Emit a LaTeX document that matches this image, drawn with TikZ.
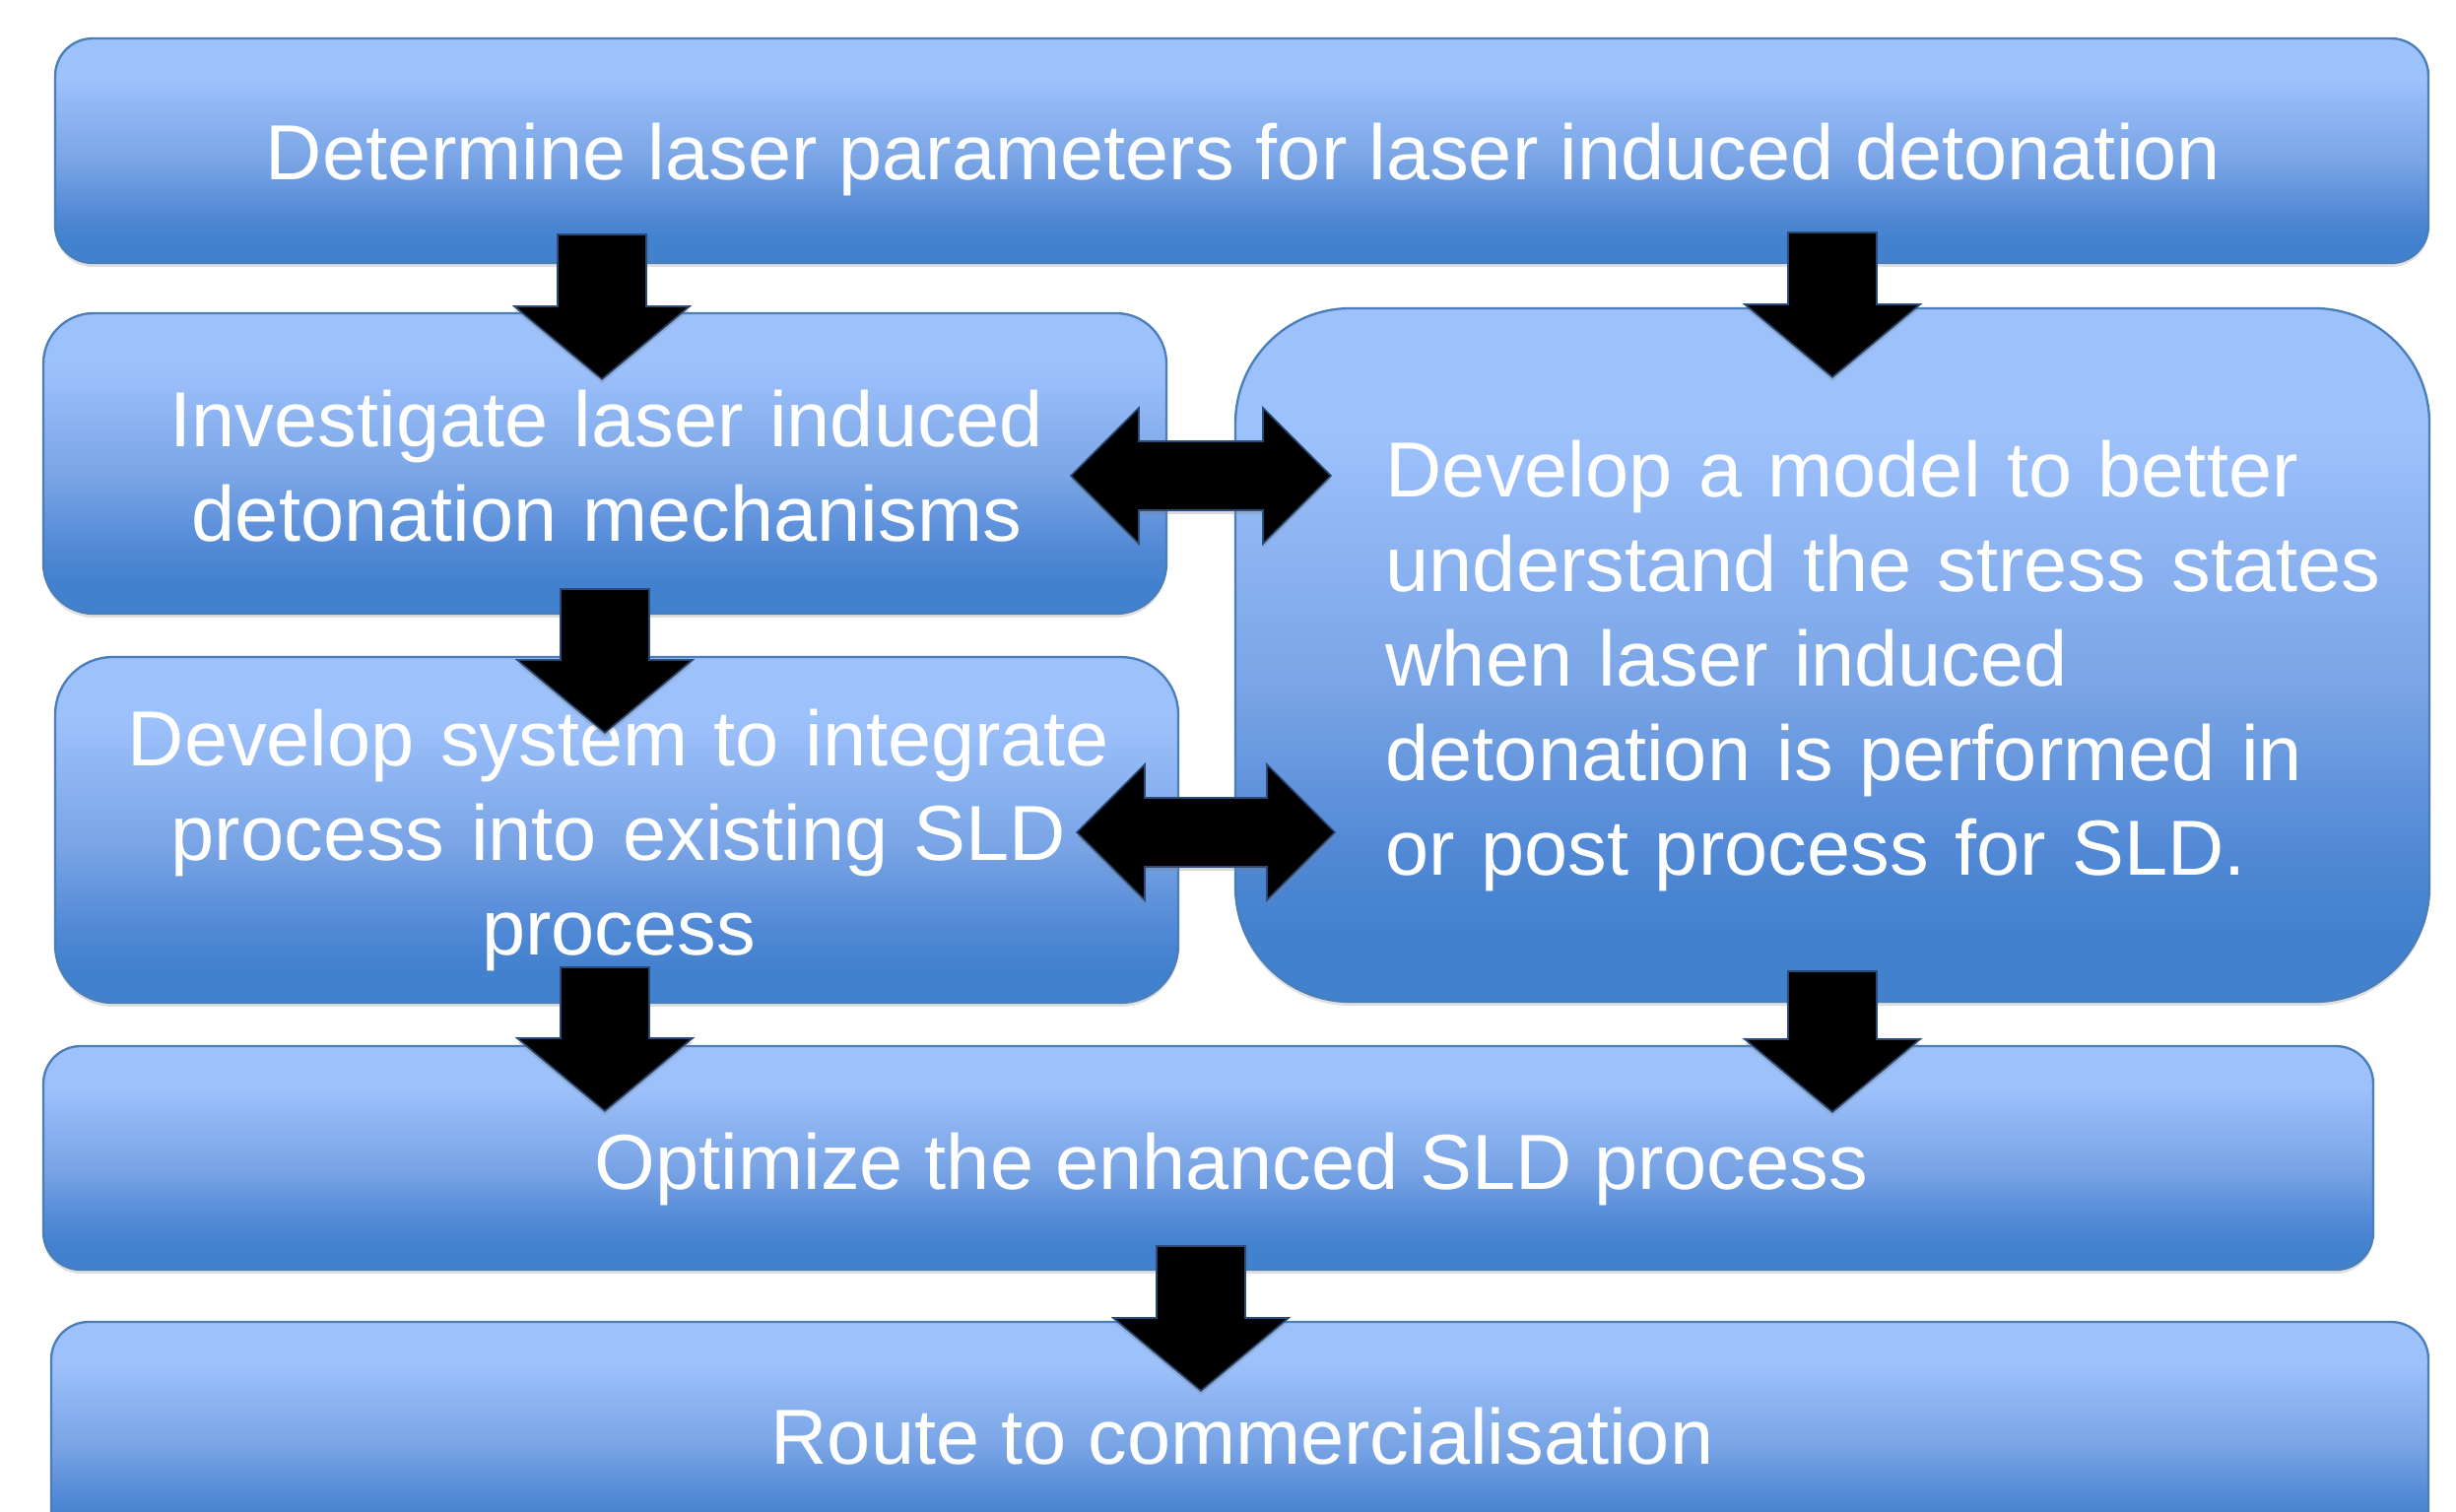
\documentclass[tikz,border=0pt]{standalone}
\usepackage{fontspec}
\setmainfont{Liberation Sans}
\usetikzlibrary{shadows,calc}
\definecolor{boxlight}{HTML}{9DC1FB}
\definecolor{boxmid}{HTML}{79A4E5}
\definecolor{boxmdd}{HTML}{5289D6}
\definecolor{boxdark}{HTML}{4281CE}
\definecolor{boxline}{HTML}{4A7EBB}
\definecolor{arrline}{HTML}{2A4A78}
\pgfdeclareverticalshading{boxshade}{100bp}{color(0bp)=(boxdark); color(30bp)=(boxdark); color(36bp)=(boxmdd); color(47.5bp)=(boxmid); color(66bp)=(boxlight); color(100bp)=(boxlight)}
\tikzset{
  box/.style={rectangle, draw=boxline, line width=0.7pt, shade, shading=boxshade, inner sep=0pt,
    drop shadow={shadow xshift=0pt, shadow yshift=-1.2pt, opacity=0.25}},
  txt/.style={text=white, font=\fontsize{23.8pt}{28.8pt}\selectfont, inner sep=0pt},
  arr/.style={fill=black, draw=arrline, line width=0.5pt, line join=miter,
    drop shadow={shadow xshift=0pt, shadow yshift=-1.2pt, opacity=0.3}}
}
\newcommand\downblock[2]{\filldraw[arr] ($(#1)+(-45,0)$) -- ($(#1)+(45,0)$) -- ($(#2)+(45,-74)$) -- ($(#2)+(89,-74)$) -- (#2) -- ($(#2)+(-89,-74)$) -- ($(#2)+(-45,-74)$) -- cycle;}
\newcommand\dblblock[2]{\filldraw[arr] (#1) -- ($(#1)+(69,-69)$) -- ($(#1)+(69,-35)$) -- ($(#2)+(-69,-35)$) -- ($(#2)+(-69,-69)$) -- (#2) -- ($(#2)+(-69,69)$) -- ($(#2)+(-69,35)$) -- ($(#1)+(69,35)$) -- ($(#1)+(69,69)$) -- cycle;}
\begin{document}
\begin{tikzpicture}[x=0.3pt, y=-0.3pt]
\path[use as bounding box] (0,0) rectangle (2493,1535);
\clip (0,0) rectangle (2493,1535);
\fill[white] (0,0) rectangle (2493,1535);

% boxes
\node[box, minimum width=722.7pt, minimum height=68.4pt, rounded corners=11.4pt] (b1) at (1260.5,153) {};
\node[box, minimum width=342pt, minimum height=91.5pt, rounded corners=15.3pt] (b2) at (614,470.5) {};
\node[box, minimum width=342pt, minimum height=105.3pt, rounded corners=17.5pt] (b3) at (626,842.5) {};
\node[box, minimum width=363.6pt, minimum height=211.2pt, rounded corners=35pt] (b4) at (1860,665) {};
\node[box, minimum width=709.5pt, minimum height=68.1pt, rounded corners=11.4pt] (b5) at (1226.5,1175.5) {};
\node[box, minimum width=723.9pt, minimum height=68.4pt, rounded corners=11.4pt] (b6) at (1258.5,1456) {};

% texts
\node[txt, anchor=base] (t1) at (1262,183) {Determine laser parameters for laser induced detonation};
\node[txt, anchor=north, text width=360pt, align=center] (t2) at (616,395) {Investigate laser induced\\detonation mechanisms};
\node[txt, anchor=north, text width=360pt, align=center] (t3) at (628,719) {Develop system to integrate\\process into existing SLD\\process};
\node[txt, anchor=north west, text width=330pt, align=left] (t4) at (1406,446) {Develop a model to better\\understand the stress states\\when laser induced\\detonation is performed in\\or post process for SLD.};
\node[txt, anchor=base] (t5) at (1250,1207) {Optimize the enhanced SLD process};
\node[txt, anchor=base] (t6) at (1261,1486) {Route to commercialisation};

% arrow end points
\coordinate (a1s) at (611,238);  \coordinate (a1e) at (611,385);
\coordinate (a2s) at (1860,236); \coordinate (a2e) at (1860,383);
\coordinate (a3s) at (614,598);  \coordinate (a3e) at (614,744);
\coordinate (a4s) at (614,982);  \coordinate (a4e) at (614,1128);
\coordinate (a5s) at (1860,986); \coordinate (a5e) at (1860,1129);
\coordinate (a6s) at (1219,1265); \coordinate (a6e) at (1219,1412);
\coordinate (d1l) at (1087,483); \coordinate (d1r) at (1351,483);
\coordinate (d2l) at (1093,845); \coordinate (d2r) at (1355,845);

% arrows
\downblock{a1s}{a1e}
\downblock{a2s}{a2e}
\downblock{a3s}{a3e}
\downblock{a4s}{a4e}
\downblock{a5s}{a5e}
\downblock{a6s}{a6e}
\dblblock{d1l}{d1r}
\dblblock{d2l}{d2r}
\end{tikzpicture}
\end{document}
